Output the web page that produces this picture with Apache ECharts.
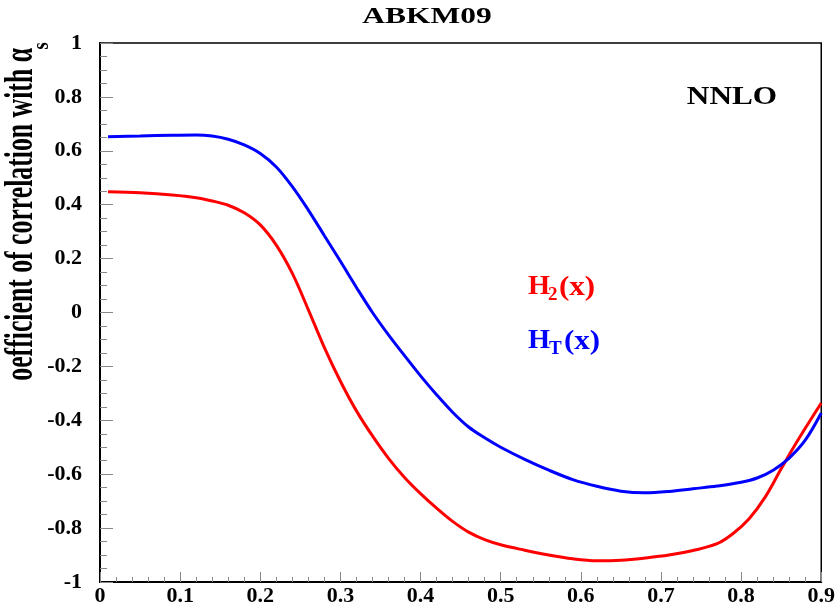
<!DOCTYPE html>
<html>
<head>
<meta charset="utf-8">
<script src="https://cdn.jsdelivr.net/npm/echarts@6/dist/echarts.min.js"></script>
<style>html,body{margin:0;padding:0;background:#fff}#c{width:838px;height:608px}</style>
</head>
<body>
<div id="c"></div>
<script>
// x values (Bjorken x)
const xValues = [0.01,0.05,0.09,0.12,0.14,0.16,0.18,0.20,0.22,0.24,0.26,0.28,0.30,0.32,0.34,0.36,0.38,0.40,0.42,0.44,0.46,0.48,0.50,0.53,0.56,0.59,0.62,0.65,0.68,0.71,0.74,0.77,0.79,0.81,0.83,0.85,0.87,0.90];
// H2(x) correlation coefficient with alpha_s
const h2Values = [0.448,0.444,0.436,0.426,0.414,0.398,0.37,0.325,0.25,0.145,0.01,-0.13,-0.255,-0.365,-0.458,-0.541,-0.612,-0.672,-0.726,-0.775,-0.815,-0.843,-0.862,-0.882,-0.9,-0.914,-0.921,-0.919,-0.911,-0.9,-0.883,-0.858,-0.82,-0.765,-0.685,-0.58,-0.478,-0.336];
// HT(x) correlation coefficient with alpha_s
const htXValues = [0.01,0.05,0.09,0.12,0.14,0.16,0.18,0.20,0.22,0.24,0.26,0.28,0.30,0.32,0.34,0.36,0.38,0.40,0.42,0.44,0.46,0.48,0.50,0.53,0.56,0.59,0.62,0.65,0.68,0.71,0.74,0.77,0.80,0.82,0.84,0.86,0.88,0.90];
const htValues = [0.652,0.655,0.658,0.659,0.655,0.643,0.622,0.59,0.54,0.467,0.38,0.285,0.19,0.093,0.0,-0.083,-0.16,-0.235,-0.305,-0.37,-0.425,-0.465,-0.5,-0.545,-0.585,-0.62,-0.645,-0.663,-0.669,-0.664,-0.654,-0.644,-0.63,-0.614,-0.585,-0.54,-0.474,-0.373];
const xTickLabels = ['0','0.1','0.2','0.3','0.4','0.5','0.6','0.7','0.8','0.9'];
const yTickLabels = ['-1','-0.8','-0.6','-0.4','-0.2','0','0.2','0.4','0.6','0.8','1'];

const serif = '"Liberation Serif", "Times New Roman", serif';
const chart = echarts.init(document.getElementById('c'));
const lblStyle = {color:'#000', fontFamily: serif, fontWeight:'bold', fontSize:22};
chart.setOption({
  animation:false,
  backgroundColor:'#fff',
  grid:{left:100,right:15,top:43,bottom:26,show:true,borderColor:'#000',borderWidth:1.5,containLabel:false},
  xAxis:{type:'value',min:0,max:0.9,interval:0.1,
    axisLine:{show:true,onZero:false,lineStyle:{color:'#000',width:2}},
    axisTick:{show:true,inside:true,length:10,lineStyle:{color:'#888',width:1}},
    minorTick:{show:true,splitNumber:5,length:5,lineStyle:{color:'#888',width:1}},
    splitLine:{show:false},minorSplitLine:{show:false},
    axisLabel:Object.assign({margin:3,formatter:v=>xTickLabels[Math.round(v*10)]},lblStyle)},
  yAxis:{type:'value',min:-1,max:1,interval:0.2,
    axisLine:{show:true,onZero:false,lineStyle:{color:'#000',width:2}},
    axisTick:{show:true,inside:true,length:13,lineStyle:{color:'#888',width:1}},
    minorTick:{show:true,splitNumber:4,length:7,lineStyle:{color:'#888',width:1}},
    splitLine:{show:false},minorSplitLine:{show:false},
    axisLabel:Object.assign({margin:18,formatter:v=>yTickLabels[Math.round((v+1)*5)]},lblStyle)},
  series:[
    {type:'line',name:'H2(x)',data:xValues.map((x,i)=>[x,h2Values[i]]),smooth:0.35,showSymbol:false,
     lineStyle:{color:'#ff0000',width:3},itemStyle:{color:'#ff0000'}},
    {type:'line',name:'HT(x)',data:htXValues.map((x,i)=>[x,htValues[i]]),smooth:0.35,showSymbol:false,
     lineStyle:{color:'#0000ff',width:3},itemStyle:{color:'#0000ff'}}
  ],
  graphic:[
    {type:'text',x:427,y:17,scaleX:1.37,style:{text:'ABKM09',font:'bold 23px '+serif,fill:'#000',align:'center',verticalAlign:'middle'}},
    {type:'text',x:732,y:98,scaleX:1.25,style:{text:'NNLO',font:'bold 25px '+serif,fill:'#000',align:'center',verticalAlign:'middle'}},
    {type:'text',x:22,y:48,rotation:Math.PI/2,scaleX:0.66,style:{text:'oefficient of correlation with \u03b1',font:'bold 39px '+serif,fill:'#000',align:'right',verticalAlign:'middle'}},
    {type:'text',x:42,y:46,rotation:Math.PI/2,scaleX:0.8,style:{text:'s',font:'bold 23px '+serif,fill:'#000',align:'center',verticalAlign:'middle'}},
    {type:'text',x:528,y:287,scaleX:1.05,style:{text:'H',font:'bold 27px '+serif,fill:'#ff0000',align:'left',verticalAlign:'middle'}},
    {type:'text',x:548,y:295,style:{text:'2',font:'bold 19px '+serif,fill:'#ff0000',align:'left',verticalAlign:'middle'}},
    {type:'text',x:559,y:288,scaleX:1.15,style:{text:'(x)',font:'bold 27px '+serif,fill:'#ff0000',align:'left',verticalAlign:'middle'}},
    {type:'text',x:528,y:341,scaleX:1.05,style:{text:'H',font:'bold 27px '+serif,fill:'#0000ff',align:'left',verticalAlign:'middle'}},
    {type:'text',x:549,y:349,style:{text:'T',font:'bold 19px '+serif,fill:'#0000ff',align:'left',verticalAlign:'middle'}},
    {type:'text',x:564,y:342,scaleX:1.15,style:{text:'(x)',font:'bold 27px '+serif,fill:'#0000ff',align:'left',verticalAlign:'middle'}}
  ]
});
</script>
</body>
</html>
